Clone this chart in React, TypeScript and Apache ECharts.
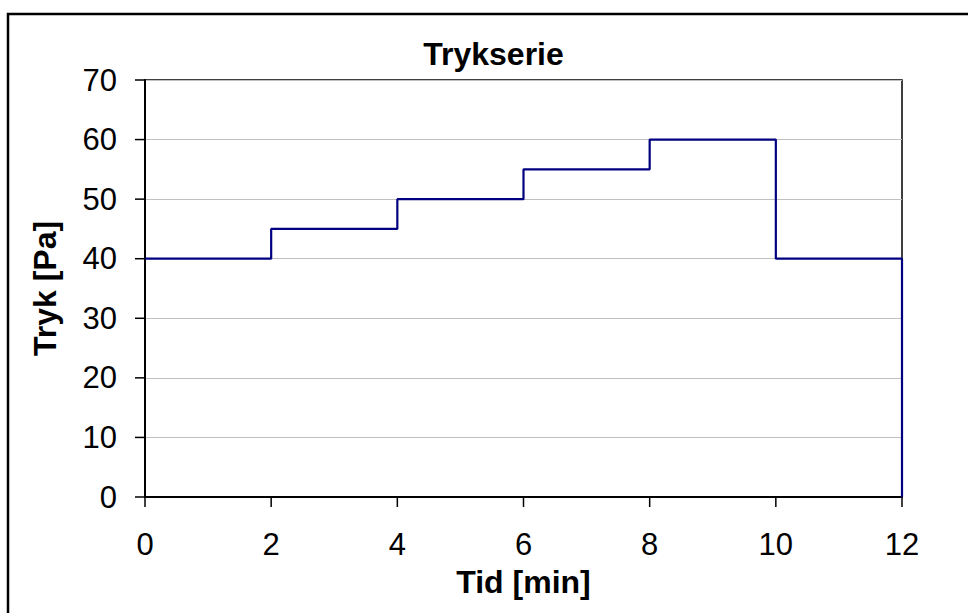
import React, { useEffect, useRef } from "react";
import * as echarts from "echarts";

const chartTitle = "Trykserie";
const xAxisName = "Tid [min]";
const yAxisName = "Tryk [Pa]";
// Step profile: time [min] and pressure [Pa] at each corner of the stepped line
const times = [0, 2, 2, 4, 4, 6, 6, 8, 8, 10, 10, 12, 12];
const pressures = [40, 40, 45, 45, 50, 50, 55, 55, 60, 60, 40, 40, 0];
const xMin = 0;
const xMax = 12;
const xStep = 2;
const yMin = 0;
const yMax = 70;
const yStep = 10;
const xTickValues = [0, 2, 4, 6, 8, 10, 12];
const yTickValues = [0, 10, 20, 30, 40, 50, 60, 70];

const FONT = "'Liberation Sans', Arial, Helvetica, sans-serif";
const TICK_LEN = 10;

export default function App() {
  const ref = useRef<HTMLDivElement>(null);

  useEffect(() => {
    document.body.style.margin = "0";
    if (!ref.current) return;
    const chart = echarts.init(ref.current, undefined, { renderer: "svg" });
    const data = times.map((t, i) => [t, pressures[i]]);
    chart.setOption({
      animation: false,
      backgroundColor: "#ffffff",
      grid: {
        left: 145,
        top: 80,
        right: 66,
        bottom: 116,
        show: true,
        borderColor: "#000000",
        borderWidth: 1.5,
        backgroundColor: "transparent",
      },
      graphic: [
        {
          type: "rect",
          shape: { x: 8, y: 14, width: 2000, height: 2000 },
          style: { fill: "transparent", stroke: "#000000", lineWidth: 2.5 },
          silent: true,
          z: 100,
        },
        {
          type: "text",
          x: 493.5,
          y: 53.5,
          style: {
            text: chartTitle,
            font: `bold 32px ${FONT}`,
            fill: "#000000",
            align: "center",
            verticalAlign: "middle",
          },
        },
      ],
      xAxis: {
        type: "value",
        min: xMin,
        max: xMax,
        interval: xStep,
        name: xAxisName,
        nameLocation: "middle",
        nameGap: 85,
        nameTextStyle: {
          fontFamily: FONT,
          fontWeight: "bold",
          fontSize: 32,
          color: "#000000",
          verticalAlign: "middle",
        },
        axisLine: { show: true, onZero: false, lineStyle: { color: "#000000", width: 2 } },
        axisTick: { show: false },
        axisLabel: {
          fontFamily: FONT,
          fontSize: 31,
          color: "#000000",
          margin: 47,
          verticalAlign: "middle",
        },
        splitLine: { show: false },
      },
      yAxis: {
        type: "value",
        min: yMin,
        max: yMax,
        interval: yStep,
        name: yAxisName,
        nameLocation: "middle",
        nameGap: 100,
        nameRotate: 90,
        nameTextStyle: {
          fontFamily: FONT,
          fontWeight: "bold",
          fontSize: 32,
          color: "#000000",
          verticalAlign: "middle",
        },
        axisLine: { show: true, onZero: false, lineStyle: { color: "#000000", width: 2 } },
        axisTick: { show: false },
        axisLabel: {
          fontFamily: FONT,
          fontSize: 31,
          color: "#000000",
          margin: 28,
        },
        splitLine: { show: true, lineStyle: { color: "#c0c0c0", width: 1 } },
      },
      series: [
        {
          type: "line",
          name: chartTitle,
          data,
          showSymbol: false,
          symbol: "none",
          lineStyle: { color: "#000080", width: 2.2 },
          itemStyle: { color: "#000080" },
          clip: false,
          z: 5,
        },
        {
          type: "custom",
          name: "xTicks",
          silent: true,
          clip: false,
          z: 6,
          data: xTickValues.map((v) => [v, yMin]),
          renderItem: (_params: any, api: any) => {
            const p = api.coord([api.value(0), api.value(1)]);
            return {
              type: "line",
              shape: { x1: p[0], y1: p[1], x2: p[0], y2: p[1] + TICK_LEN },
              style: { stroke: "#000000", lineWidth: 1.5 },
            };
          },
        },
        {
          type: "custom",
          name: "yTicks",
          silent: true,
          clip: false,
          z: 6,
          data: yTickValues.map((v) => [xMin, v]),
          renderItem: (_params: any, api: any) => {
            const p = api.coord([api.value(0), api.value(1)]);
            return {
              type: "line",
              shape: { x1: p[0] - TICK_LEN, y1: p[1], x2: p[0], y2: p[1] },
              style: { stroke: "#000000", lineWidth: 1.5 },
            };
          },
        },
      ],
    });
    return () => chart.dispose();
  }, []);

  return <div ref={ref} style={{ width: 968, height: 613 }} />;
}
